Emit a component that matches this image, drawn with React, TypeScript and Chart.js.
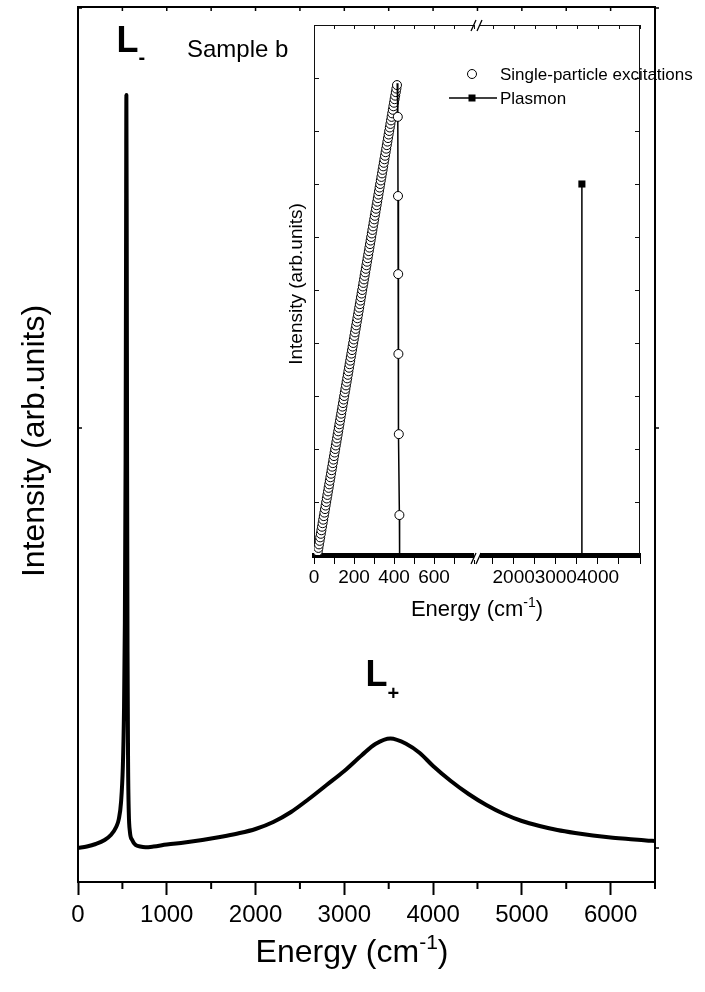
import React, { useEffect, useRef } from 'react';
import { Chart, registerables, LinearScale } from 'chart.js';

Chart.register(...registerables);

const FONT = '"Liberation Sans", Arial, Helvetica, sans-serif';

// ---------- main spectrum (sample b) ----------
const energy = [
  0, 100, 200, 300, 370, 430, 460, 485, 505, 518,
  528, 536, 541, 545, 549, 553, 558, 564, 572, 585,
  610, 650, 700, 760, 850, 1000, 1200, 1400, 1600, 1800,
  2000, 2200, 2400, 2600, 2800, 3000, 3200, 3350, 3520, 3700,
  3850, 4000, 4200, 4400, 4600, 4800, 5000, 5200, 5400, 5600,
  5800, 6000, 6200, 6400, 6500,
];
const intensity = [
  0, 1.5, 4, 8, 13, 21, 29, 46, 81, 136,
  226, 386, 586, 753, 606, 386, 196, 86, 36, 16,
  8, 3, 1.5, 0.8, 1.5, 3.5, 5.5, 8, 11, 14.5,
  19, 26, 36, 49, 63, 77, 93, 104, 109.5, 104,
  95, 82, 67, 54, 43, 34, 27, 22, 18, 15,
  12.5, 10.5, 9, 7.5, 7,
];
const mainMajorTicks = [0, 1000, 2000, 3000, 4000, 5000, 6000];
const mainMinorTicks = [500, 1500, 2500, 3500, 4500, 5500, 6500];
const mainYTicks = [0, 420, 840];

// ---------- inset: excitation energies ----------
const speEnergy = [
  16, 19, 22, 25, 28, 31, 34, 37, 40, 43, 46, 49, 52, 55, 58, 61, 64, 67, 70, 73,
  76, 79, 82, 85, 88, 91, 94, 97, 100, 103, 106, 109, 112, 115, 118, 121, 124, 127, 130, 133,
  136, 139, 142, 145, 148, 151, 154, 157, 160, 163, 166, 169, 172, 175, 178, 181, 184, 187, 190, 193,
  196, 199, 202, 205, 208, 211, 214, 217, 220, 223, 226, 229, 232, 235, 238, 241, 244, 247, 250, 253,
  256, 259, 262, 265, 268, 271, 274, 277, 280, 283, 286, 289, 292, 295, 298, 301, 304, 307, 310, 313,
  316, 319, 322, 325, 328, 331, 334, 337, 340, 343, 346, 349, 352, 355, 358, 361, 364, 367, 370, 373,
  376, 379, 382, 385, 388, 391, 394, 397, 400, 403, 406, 409, 412, 415,
];
const speIntensity = [
  0, 1, 2, 3, 4, 5, 6, 7, 8, 9, 10, 11, 12, 13, 14, 15, 16, 17, 18, 19,
  20, 21, 22, 23, 24, 25, 26, 27, 28, 29, 30, 31, 32, 33, 34, 35, 36, 37, 38, 39,
  40, 41, 42, 43, 44, 45, 46, 47, 48, 49, 50, 51, 52, 53, 54, 55, 56, 57, 58, 59,
  60, 61, 62, 63, 64, 65, 66, 67, 68, 69, 70, 71, 72, 73, 74, 75, 76, 77, 78, 79,
  80, 81, 82, 83, 84, 85, 86, 87, 88, 89, 90, 91, 92, 93, 94, 95, 96, 97, 98, 99,
  100, 101, 102, 103, 104, 105, 106, 107, 108, 109, 110, 111, 112, 113, 114, 115, 116, 117, 118, 119,
  120, 121, 122, 123, 124, 125, 126, 127, 128, 129, 130, 131, 132, 133,
];
const edgeEnergy = [416, 419, 420, 421, 422, 424, 427, 428];
const edgeIntensity = [133.5, 124, 101.6, 79.5, 56.9, 34.2, 11.3, 0];
const edgeMarker = [0, 4.5, 4.5, 4.5, 4.5, 4.5, 4.5, 0];
const plasmonEnergy = [3620, 3620];
const plasmonIntensity = [105, 0];

const insetTicks = [0, 100, 200, 300, 400, 500, 600, 700, 800, 1500, 2000, 2500, 3000, 3500, 4000, 4500, 5000];
const insetTickLabels = ['0', '', '200', '', '400', '', '600', '', '', '', '2000', '', '3000', '', '4000', '', ''];
const insetYTicks = [15, 30, 45, 60, 75, 90, 105, 120, 135];

// where the inset canvas sits on the page
const INSET_X = 280;
const INSET_Y = 10;

// Linear axis with a gap between `from` and `to`
class BrokenLinearScale extends LinearScale {
  static id = 'brokenLinear';
  static defaults = {};

  toDecimal(value: number) {
    const b = (this.options as any).axisBreak;
    const lo = this.min;
    const hi = this.max;
    if (value <= b.from) return ((value - lo) / (b.from - lo)) * b.split;
    if (value >= b.to) return b.split + b.gap + ((value - b.to) / (hi - b.to)) * (1 - b.split - b.gap);
    return b.split + b.gap / 2;
  }

  getPixelForValue(value: any) {
    if (value === null || value === undefined || Number.isNaN(+value)) return NaN;
    return this.getPixelForDecimal(this.toDecimal(+value));
  }

  getValueForPixel(pixel: number) {
    const d = this.getDecimalForPixel(pixel);
    const b = (this.options as any).axisBreak;
    if (d <= b.split) return this.min + (d / b.split) * (b.from - this.min);
    if (d >= b.split + b.gap) return b.to + ((d - b.split - b.gap) / (1 - b.split - b.gap)) * (this.max - b.to);
    return (b.from + b.to) / 2;
  }
}
Chart.register(BrokenLinearScale);

type Run = { text: string; size: number; bold?: boolean; rise?: number };

function drawRuns(ctx: CanvasRenderingContext2D, runs: Run[], x: number, y: number, align: 'left' | 'center') {
  const fontOf = (r: Run) => `${r.bold ? 'bold ' : ''}${r.size}px ${FONT}`;
  let total = 0;
  for (const r of runs) {
    ctx.font = fontOf(r);
    total += ctx.measureText(r.text).width;
  }
  let cx = align === 'center' ? x - total / 2 : x;
  ctx.textAlign = 'left';
  ctx.textBaseline = 'alphabetic';
  ctx.fillStyle = '#000';
  for (const r of runs) {
    ctx.font = fontOf(r);
    ctx.fillText(r.text, cx, y - (r.rise || 0));
    cx += ctx.measureText(r.text).width;
  }
}

function line(ctx: CanvasRenderingContext2D, x1: number, y1: number, x2: number, y2: number) {
  ctx.beginPath();
  ctx.moveTo(x1, y1);
  ctx.lineTo(x2, y2);
  ctx.stroke();
}

const mainDecor = {
  id: 'mainDecor',
  afterDraw(chart: any) {
    const { ctx, chartArea: a } = chart;
    const xs = chart.scales.x;
    const ys = chart.scales.y;
    ctx.save();
    ctx.strokeStyle = '#000';
    ctx.lineCap = 'butt';

    // closing frame
    ctx.lineWidth = 2;
    line(ctx, a.left - 1, a.top, a.right + 1, a.top);
    line(ctx, a.right, a.top, a.right, a.bottom);

    // minor ticks below the energy axis
    for (const v of mainMinorTicks) {
      const px = xs.getPixelForValue(v);
      line(ctx, px, a.bottom + 1, px, a.bottom + 7);
    }
    // small inward ticks on the top edge
    ctx.lineWidth = 1.5;
    for (const v of [...mainMajorTicks, ...mainMinorTicks]) {
      const px = xs.getPixelForValue(v);
      line(ctx, px, a.top, px, a.top + 4);
    }
    // intensity ticks (no labels)
    for (const v of mainYTicks) {
      const py = ys.getPixelForValue(v);
      line(ctx, a.left, py, a.left + 4, py);
      line(ctx, a.right, py, a.right + 4, py);
    }

    // axis titles
    ctx.save();
    ctx.translate(44, 441);
    ctx.rotate(-Math.PI / 2);
    drawRuns(ctx, [{ text: 'Intensity (arb.units)', size: 32 }], 0, 0, 'center');
    ctx.restore();
    drawRuns(
      ctx,
      [
        { text: 'Energy (cm', size: 32 },
        { text: '-1', size: 21, rise: 13 },
        { text: ')', size: 32 },
      ],
      352,
      962,
      'center'
    );

    // peak labels
    drawRuns(ctx, [{ text: 'L', size: 36, bold: true }, { text: '-', size: 20, bold: true, rise: -12 }], 116.5, 52, 'left');
    drawRuns(ctx, [{ text: 'Sample b', size: 24 }], 187, 57, 'left');
    drawRuns(ctx, [{ text: 'L', size: 36, bold: true }, { text: '+', size: 20, bold: true, rise: -14 }], 365.5, 686, 'left');
    ctx.restore();
  },
};

const insetDecor = {
  id: 'insetDecor',
  afterDraw(chart: any) {
    const { ctx, chartArea: a } = chart;
    const xs = chart.scales.x;
    const ys = chart.scales.y;
    const bx = (xs.getPixelForValue(800) + xs.getPixelForValue(1200)) / 2;
    ctx.save();
    ctx.strokeStyle = '#111';
    ctx.lineWidth = 1;

    // top edge with a break, and right edge
    line(ctx, a.left, a.top + 0.5, bx - 3, a.top + 0.5);
    line(ctx, bx + 3, a.top + 0.5, a.right, a.top + 0.5);
    line(ctx, a.right - 0.5, a.top, a.right - 0.5, a.bottom);

    // inward ticks
    for (const v of insetYTicks) {
      const py = Math.round(ys.getPixelForValue(v)) + 0.5;
      line(ctx, a.left, py, a.left + 5, py);
      line(ctx, a.right, py, a.right - 5, py);
    }
    for (const v of insetTicks) {
      const px = Math.round(xs.getPixelForValue(v)) + 0.5;
      line(ctx, px, a.top, px, a.top + 4);
    }

    // break marks
    ctx.fillStyle = '#fff';
    ctx.fillRect(bx - 3, a.bottom - 4, 6, 9);
    ctx.strokeStyle = '#000';
    ctx.lineWidth = 1.3;
    line(ctx, bx - 6, a.bottom + 9, bx - 1, a.bottom - 2);
    line(ctx, bx - 1, a.bottom + 9, bx + 4, a.bottom - 2);
    line(ctx, bx - 6, a.top + 6, bx - 1, a.top - 5);
    line(ctx, bx, a.top + 6, bx + 5, a.top - 5);

    // legend
    const lx = 472 - INSET_X;
    ctx.lineWidth = 1;
    ctx.fillStyle = '#fff';
    ctx.beginPath();
    ctx.arc(lx, 74 - INSET_Y, 4.5, 0, Math.PI * 2);
    ctx.fill();
    ctx.stroke();
    drawRuns(ctx, [{ text: 'Single-particle excitations', size: 17 }], 500 - INSET_X, 80 - INSET_Y, 'left');
    ctx.lineWidth = 1.5;
    line(ctx, 449 - INSET_X, 98 - INSET_Y, 497 - INSET_X, 98 - INSET_Y);
    ctx.fillStyle = '#000';
    ctx.fillRect(lx - 3.5, 98 - INSET_Y - 3.5, 7, 7);
    drawRuns(ctx, [{ text: 'Plasmon', size: 17 }], 500 - INSET_X, 104 - INSET_Y, 'left');

    // axis titles
    ctx.save();
    ctx.translate(302 - INSET_X, 284 - INSET_Y);
    ctx.rotate(-Math.PI / 2);
    drawRuns(ctx, [{ text: 'Intensity (arb.units)', size: 19 }], 0, 0, 'center');
    ctx.restore();
    drawRuns(
      ctx,
      [
        { text: 'Energy (cm', size: 22 },
        { text: '-1', size: 14, rise: 9 },
        { text: ')', size: 22 },
      ],
      477 - INSET_X,
      616 - INSET_Y,
      'center'
    );
    ctx.restore();
  },
};

export default function App() {
  const mainRef = useRef<HTMLCanvasElement>(null);
  const insetRef = useRef<HTMLCanvasElement>(null);

  useEffect(() => {
    Chart.defaults.font.family = FONT;
    Chart.defaults.color = '#000';

    const main = new Chart(mainRef.current as HTMLCanvasElement, {
      type: 'line',
      data: {
        datasets: [
          {
            data: energy.map((x, i) => ({ x, y: intensity[i] })),
            borderColor: '#000',
            borderWidth: 4,
            pointRadius: 0,
            fill: false,
            cubicInterpolationMode: 'monotone',
            borderJoinStyle: 'round',
            borderCapStyle: 'round',
          },
        ],
      },
      options: {
        responsive: false,
        animation: false,
        devicePixelRatio: 1,
        events: [],
        layout: { padding: { left: 0, top: 7, right: 50, bottom: 0 } },
        plugins: { legend: { display: false }, tooltip: { enabled: false } },
        scales: {
          x: {
            type: 'linear',
            min: 0,
            max: 6500,
            afterBuildTicks: (s: any) => {
              s.ticks = mainMajorTicks.map((v) => ({ value: v }));
            },
            afterFit: (s: any) => {
              s.height = 110;
            },
            ticks: {
              callback: (v: any) => String(v),
              font: { family: FONT, size: 24 },
              color: '#000',
              padding: 6,
              autoSkip: false,
              maxRotation: 0,
              minRotation: 0,
            },
            grid: { drawOnChartArea: false, tickLength: 13, tickWidth: 2, color: '#000' },
            border: { color: '#000', width: 2 },
          },
          y: {
            type: 'linear',
            min: -34,
            max: 841,
            afterFit: (s: any) => {
              s.width = 78;
            },
            ticks: { display: false },
            grid: { drawOnChartArea: false, drawTicks: false },
            border: { color: '#000', width: 2 },
          },
        },
      } as any,
      plugins: [mainDecor],
    });

    const inset = new Chart(insetRef.current as HTMLCanvasElement, {
      type: 'line',
      data: {
        datasets: [
          {
            label: 'Plasmon',
            data: plasmonEnergy.map((x, i) => ({ x, y: plasmonIntensity[i] })),
            borderColor: '#000',
            borderWidth: 1.5,
            pointStyle: 'rect',
            pointRadius: [5, 0],
            pointBackgroundColor: '#000',
            pointBorderColor: '#000',
            pointBorderWidth: 0,
          },
          {
            label: 'edge',
            data: edgeEnergy.map((x, i) => ({ x, y: edgeIntensity[i] })),
            borderColor: '#000',
            borderWidth: 1.5,
            pointStyle: 'circle',
            pointRadius: edgeMarker,
            pointBackgroundColor: '#fff',
            pointBorderColor: '#000',
            pointBorderWidth: 1,
          },
          {
            label: 'Single-particle excitations',
            data: speEnergy.map((x, i) => ({ x, y: speIntensity[i] })),
            showLine: false,
            pointStyle: 'circle',
            pointRadius: 4.5,
            pointBackgroundColor: '#fff',
            pointBorderColor: '#000',
            pointBorderWidth: 1,
          },
        ],
      },
      options: {
        responsive: false,
        animation: false,
        devicePixelRatio: 1,
        events: [],
        layout: { padding: { left: 0, top: 15, right: 65, bottom: 0 } },
        plugins: { legend: { display: false }, tooltip: { enabled: false } },
        scales: {
          x: {
            type: 'brokenLinear',
            min: 0,
            max: 5000,
            z: 1,
            axisBreak: { from: 800, to: 1200, split: 0.4908, gap: 0.0184 },
            afterBuildTicks: (s: any) => {
              s.ticks = insetTicks.map((v) => ({ value: v }));
            },
            afterFit: (s: any) => {
              s.height = 70;
            },
            ticks: {
              callback: (_v: any, i: number) => insetTickLabels[i],
              font: { family: FONT, size: 19 },
              color: '#000',
              padding: 2,
              autoSkip: false,
              maxRotation: 0,
              minRotation: 0,
            },
            grid: { drawOnChartArea: false, tickLength: 9, tickWidth: 1, color: '#000' },
            border: { color: '#000', width: 5 },
          },
          y: {
            type: 'linear',
            min: 0,
            max: 150,
            afterFit: (s: any) => {
              s.width = 34;
            },
            ticks: { display: false },
            grid: { drawOnChartArea: false, drawTicks: false },
            border: { color: '#111', width: 1 },
          },
        },
      } as any,
      plugins: [insetDecor],
    });

    return () => {
      main.destroy();
      inset.destroy();
    };
  }, []);

  return (
    <div style={{ position: 'fixed', left: 0, top: 0, width: 705, height: 992, background: '#fff' }}>
      <canvas
        ref={mainRef}
        width={705}
        height={992}
        style={{ position: 'absolute', left: 0, top: 0, width: 705, height: 992 }}
      />
      <canvas
        ref={insetRef}
        width={425}
        height={615}
        style={{ position: 'absolute', left: INSET_X, top: INSET_Y, width: 425, height: 615 }}
      />
    </div>
  );
}
